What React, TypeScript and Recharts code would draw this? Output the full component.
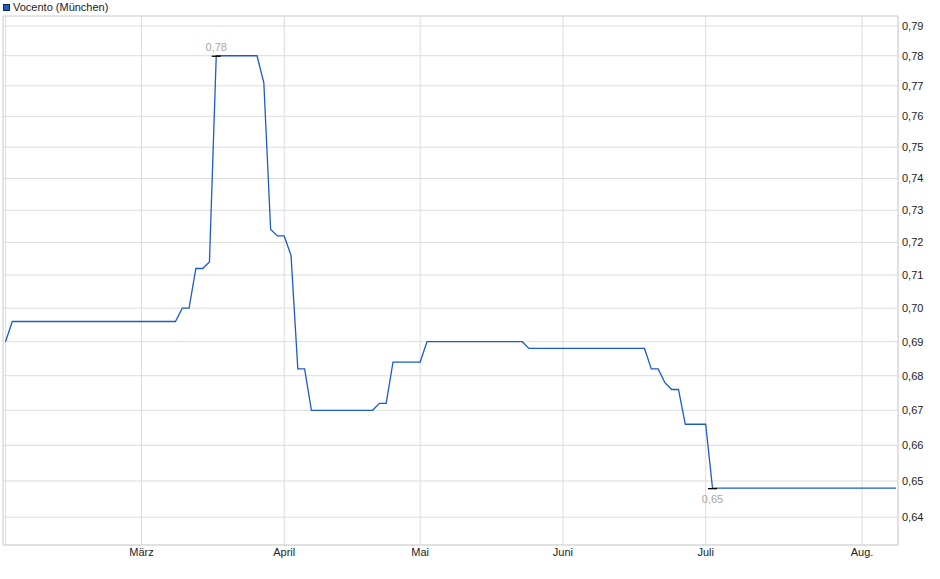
import React from "react";
import {
  LineChart,
  Line,
  XAxis,
  YAxis,
  CartesianGrid,
  ReferenceArea,
  ReferenceDot,
} from "recharts";

// trading day index since start of February
const days = [
  0, 1, 25, 26, 27, 28, 29, 30, 31, 37, 38, 39, 40, 41, 42, 43, 44, 45, 54, 55,
  56, 57, 61, 62, 76, 77, 94, 95, 96, 97, 98, 99, 100, 103, 104, 131,
];
const prices = [
  0.69, 0.696, 0.696, 0.7, 0.7, 0.712, 0.712, 0.714, 0.78, 0.78, 0.771, 0.724,
  0.722, 0.722, 0.716, 0.682, 0.682, 0.67, 0.67, 0.672, 0.672, 0.684, 0.684,
  0.69, 0.69, 0.688, 0.688, 0.682, 0.682, 0.678, 0.676, 0.676, 0.666, 0.666,
  0.648, 0.648,
];

const monthDays = [0, 20, 41, 61, 82, 103, 126];
const monthLabels = ["", "März", "April", "Mai", "Juni", "Juli", "Aug."];

const yTicks = [
  0.64, 0.65, 0.66, 0.67, 0.68, 0.69, 0.7, 0.71, 0.72, 0.73, 0.74, 0.75, 0.76,
  0.77, 0.78, 0.79,
];

const X_DOMAIN: [number, number] = [-0.37, 131.29];
const Y_DOMAIN: [number, number] = [0.6324, 0.7934];

const data = days.map((d, i) => ({ day: d, price: prices[i] }));

const maxIdx = prices.indexOf(Math.max(...prices));
const minIdx = prices.indexOf(Math.min(...prices));

const fmt = (v: number) => v.toFixed(2).replace(".", ",");

const FONT = "'Liberation Sans', Arial, sans-serif";
const GRID = "#dcdcdc";
const LINE = "#1c5cc6";

function Marker(props: any) {
  const { cx, cy, below, text } = props;
  return (
    <g>
      <line x1={cx - 4.5} x2={cx + 4.5} y1={cy + 0.5} y2={cy + 0.5} stroke="#000" strokeWidth={1.3} />
      <text
        x={cx}
        y={below ? cy + 15 : cy - 5}
        textAnchor="middle"
        fontSize={11}
        fontFamily={FONT}
        fill="#a6a6a6"
      >
        {text}
      </text>
    </g>
  );
}

export default function App() {
  const tickStyle = { fill: "#222", fontSize: 11, fontFamily: FONT };
  return (
    <div style={{ position: "absolute", left: 0, top: 0, width: 940, height: 579, background: "#fff" }}>
      <div
        style={{
          position: "absolute",
          left: 3,
          top: 1,
          display: "flex",
          alignItems: "center",
          fontFamily: FONT,
          fontSize: 11,
          color: "#222",
          zIndex: 2,
        }}
      >
        <span
          style={{
            display: "inline-block",
            width: 5,
            height: 5,
            background: "#1c5cc6",
            border: "1px solid #0b2a66",
            marginRight: 3,
          }}
        />
        Vocento (München)
      </div>
      <LineChart
        width={940}
        height={579}
        data={data}
        margin={{ top: 16, right: 0, bottom: 0, left: 3 }}
      >
        <CartesianGrid stroke={GRID} strokeWidth={1} />
        <ReferenceArea
          x1={X_DOMAIN[0]}
          x2={X_DOMAIN[1]}
          y1={Y_DOMAIN[0]}
          y2={Y_DOMAIN[1]}
          fill="none"
          stroke={GRID}
          ifOverflow="visible"
        />
        <XAxis
          dataKey="day"
          type="number"
          domain={X_DOMAIN}
          allowDataOverflow
          ticks={monthDays}
          tickFormatter={(v: number) => monthLabels[monthDays.indexOf(v)]}
          interval={0}
          height={34}
          tickLine={false}
          tickSize={0}
          tickMargin={3}
          axisLine={{ stroke: GRID }}
          tick={tickStyle}
        />
        <YAxis
          orientation="right"
          scale="log"
          type="number"
          domain={Y_DOMAIN}
          allowDataOverflow
          ticks={yTicks}
          interval={0}
          tickFormatter={fmt}
          width={42}
          tickLine={false}
          tickSize={0}
          tickMargin={4}
          axisLine={{ stroke: GRID }}
          tick={{ ...tickStyle, textAnchor: "start" }}
        />
        <Line
          type="linear"
          dataKey="price"
          stroke={LINE}
          strokeWidth={1.3}
          dot={false}
          activeDot={false}
          isAnimationActive={false}
        />
        <ReferenceDot
          x={days[maxIdx]}
          y={prices[maxIdx]}
          r={0}
          shape={(p: any) => <Marker {...p} text={fmt(prices[maxIdx])} />}
        />
        <ReferenceDot
          x={days[minIdx]}
          y={prices[minIdx]}
          r={0}
          shape={(p: any) => <Marker {...p} below text={fmt(prices[minIdx])} />}
        />
      </LineChart>
    </div>
  );
}
